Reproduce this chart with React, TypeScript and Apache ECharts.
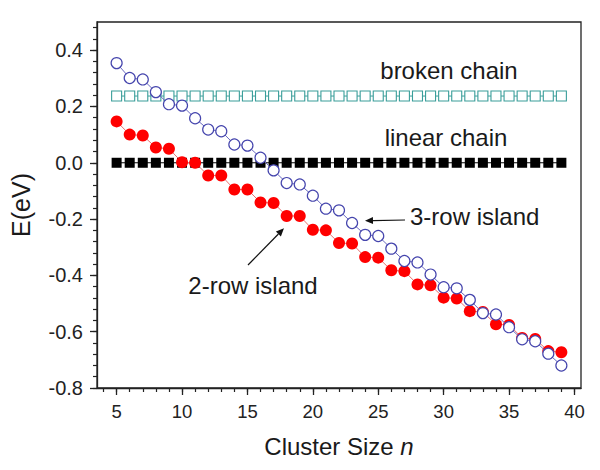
import React, { useEffect, useRef } from "react";
import * as echarts from "echarts";

// ---- data ----
const clusterSizes = [5,6,7,8,9,10,11,12,13,14,15,16,17,18,19,20,21,22,23,24,25,26,27,28,29,30,31,32,33,34,35,36,37,38,39];
const threeRowIsland = [0.354,0.301,0.296,0.251,0.208,0.203,0.158,0.118,0.112,0.065,0.061,0.018,-0.027,-0.072,-0.077,-0.117,-0.163,-0.169,-0.214,-0.256,-0.260,-0.305,-0.349,-0.354,-0.397,-0.442,-0.446,-0.487,-0.534,-0.539,-0.584,-0.627,-0.634,-0.678,-0.720];
const twoRowIsland = [0.147,0.100,0.097,0.054,0.050,0.002,0.000,-0.045,-0.045,-0.095,-0.095,-0.141,-0.143,-0.189,-0.189,-0.238,-0.240,-0.285,-0.287,-0.335,-0.337,-0.382,-0.385,-0.432,-0.435,-0.479,-0.482,-0.527,-0.530,-0.574,-0.576,-0.622,-0.626,-0.669,-0.673];
const brokenChain = [0.237,0.237,0.237,0.237,0.237,0.237,0.237,0.237,0.237,0.237,0.237,0.237,0.237,0.237,0.237,0.237,0.237,0.237,0.237,0.237,0.237,0.237,0.237,0.237,0.237,0.237,0.237,0.237,0.237,0.237,0.237,0.237,0.237,0.237,0.237];
const linearChain = [0,0,0,0,0,0,0,0,0,0,0,0,0,0,0,0,0,0,0,0,0,0,0,0,0,0,0,0,0,0,0,0,0,0,0];
const xTickLabels = [5,10,15,20,25,30,35,40];
const yTickLabels = [-0.8,-0.6,-0.4,-0.2,0.0,0.2,0.4];

const FONT = "'Liberation Sans', Arial, Helvetica, sans-serif";

function pairs(ys: number[]) {
  return clusterSizes.map((x, i) => [x, ys[i]]);
}

function arrow(x1: number, y1: number, x2: number, y2: number) {
  const dx = x2 - x1, dy = y2 - y1;
  const len = Math.sqrt(dx * dx + dy * dy);
  const ux = dx / len, uy = dy / len;
  const head = 8, half = 3.5;
  const bx = x2 - ux * head, by = y2 - uy * head;
  const px = -uy, py = ux;
  return [
    { type: "line", shape: { x1, y1, x2: bx, y2: by }, style: { stroke: "#111", lineWidth: 1.2 } },
    { type: "polygon", shape: { points: [[x2, y2], [bx + px * half, by + py * half], [bx - px * half, by - py * half]] }, style: { fill: "#111" } },
  ];
}

export default function App() {
  const ref = useRef<HTMLDivElement>(null);
  useEffect(() => {
    if (!ref.current) return;
    const chart = echarts.init(ref.current, null, { renderer: "svg" });
    const xMinor: number[] = [];
    for (let v = 4; v <= 40; v++) xMinor.push(v);
    const yMinor: number[] = [];
    for (let k = -20; k <= 12; k++) yMinor.push(Math.round(k * 4) / 100);

    const axisCommon = {
      type: "value",
      splitLine: { show: false },
    };
    const option: any = {
      animation: false,
      backgroundColor: "#fff",
      grid: { left: 97, top: 22, right: 19, bottom: 82, show: true, borderColor: "#222", borderWidth: 1.3, backgroundColor: "transparent" },
      xAxis: [
        {
          ...axisCommon,
          min: 3.5, max: 40.5,
          position: "bottom",
          axisLine: { show: true, onZero: false, lineStyle: { color: "#222", width: 1.3 } },
          axisTick: { show: true, customValues: xTickLabels, length: 7, inside: false, lineStyle: { color: "#222", width: 1.3 } },
          axisLabel: { customValues: xTickLabels, margin: 14, color: "#222", fontSize: 18.5, fontFamily: FONT },
          name: "{a|Cluster Size }{b|n}",
          nameLocation: "middle",
          nameGap: 46,
          nameTextStyle: {
            rich: {
              a: { fontSize: 24, fontFamily: FONT, color: "#1a1a1a" },
              b: { fontSize: 24, fontFamily: FONT, color: "#1a1a1a", fontStyle: "italic" },
            },
          },
        },
        {
          ...axisCommon,
          min: 3.5, max: 40.5,
          position: "bottom",
          axisLine: { show: false, onZero: false },
          axisTick: { show: true, customValues: xMinor, length: 4, inside: false, lineStyle: { color: "#222", width: 1.2 } },
          axisLabel: { show: false },
        },
      ],
      yAxis: [
        {
          ...axisCommon,
          min: -0.8, max: 0.5,
          position: "left",
          axisLine: { show: true, onZero: false, lineStyle: { color: "#222", width: 1.3 } },
          axisTick: { show: true, customValues: yTickLabels, length: 7, inside: false, lineStyle: { color: "#222", width: 1.3 } },
          axisLabel: { customValues: yTickLabels, margin: 14, color: "#222", fontSize: 20, fontFamily: FONT, formatter: (v: number) => v.toFixed(1) },
          name: "E(eV)",
          nameLocation: "middle",
          nameGap: 64,
          nameTextStyle: { fontSize: 25, fontFamily: FONT, color: "#1a1a1a" },
        },
        {
          ...axisCommon,
          min: -0.8, max: 0.5,
          position: "left",
          axisLine: { show: false, onZero: false },
          axisTick: { show: true, customValues: yMinor, length: 4, inside: false, lineStyle: { color: "#222", width: 1.2 } },
          axisLabel: { show: false },
        },
      ],
      series: [
        {
          name: "broken chain", type: "line", data: pairs(brokenChain),
          symbol: "rect", symbolSize: 10,
          itemStyle: { color: "#fff", borderColor: "#3a9e9a", borderWidth: 1.1 },
          lineStyle: { color: "#3a9e9a", width: 1 },
          z: 2,
        },
        {
          name: "linear chain", type: "line", data: pairs(linearChain),
          symbol: "rect", symbolSize: 10,
          itemStyle: { color: "#000", borderWidth: 0 },
          lineStyle: { color: "#000", width: 1 },
          z: 3,
        },
        {
          name: "2-row island", type: "line", data: pairs(twoRowIsland),
          symbol: "circle", symbolSize: 12,
          itemStyle: { color: "#ff0000", borderWidth: 0 },
          lineStyle: { color: "#e87070", width: 1 },
          z: 4,
        },
        {
          name: "3-row island", type: "line", data: pairs(threeRowIsland),
          symbol: "circle", symbolSize: 11,
          itemStyle: { color: "#fff", borderColor: "#4545ad", borderWidth: 1.2 },
          lineStyle: { color: "#6a6ac0", width: 1 },
          z: 5,
        },
      ],
      graphic: [
        { type: "text", x: 449, y: 70, style: { text: "broken chain", font: `24px ${FONT}`, fill: "#1a1a1a", textAlign: "center", textVerticalAlign: "middle" } },
        { type: "text", x: 446, y: 137, style: { text: "linear chain", font: `24px ${FONT}`, fill: "#1a1a1a", textAlign: "center", textVerticalAlign: "middle" } },
        { type: "text", x: 410, y: 216, style: { text: "3-row island", font: `24px ${FONT}`, fill: "#1a1a1a", textAlign: "left", textVerticalAlign: "middle" } },
        { type: "text", x: 253, y: 285, style: { text: "2-row island", font: `24px ${FONT}`, fill: "#1a1a1a", textAlign: "center", textVerticalAlign: "middle" } },
        ...arrow(405, 220, 365, 220.7),
        ...arrow(248, 265, 284, 228.3),
      ],
    };
    chart.setOption(option);
    return () => chart.dispose();
  }, []);
  return <div ref={ref} style={{ position: "fixed", left: 0, top: 0, width: 600, height: 470 }} />;
}
